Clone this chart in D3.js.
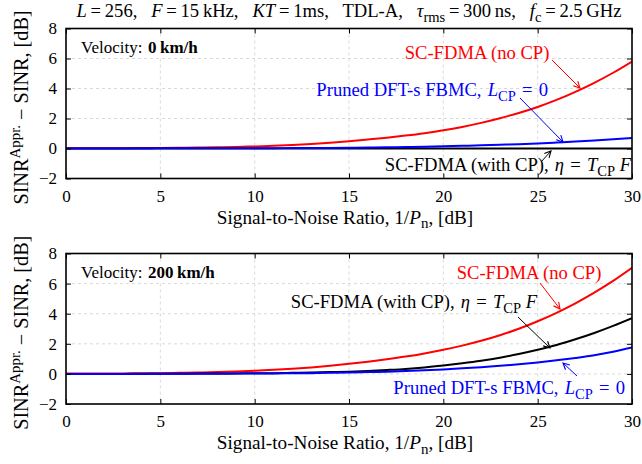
<!DOCTYPE html>
<html>
<head>
<meta charset="utf-8">
<script src="https://cdn.jsdelivr.net/npm/d3@7"></script>
<style>
  html, body { margin: 0; padding: 0; background: #fff; }
  svg { display: block; font-family: "Liberation Serif", "Times New Roman", serif; }
</style>
</head>
<body>
<svg id="chart" width="642" height="464"></svg>
<script>
// SNR grid in dB
const snrDb = [0,1,2,3,4,5,6,7,8,9,10,11,12,13,14,15,16,17,18,19,20,21,22,23,24,25,26,27,28,29,30];

// Velocity 0 km/h: SINR approximation error in dB
const noCp0   = [0.01,0.01,0.02,0.02,0.03,0.04,0.05,0.06,0.08,0.10,0.14,0.18,0.23,0.30,0.39,0.49,0.60,0.72,0.86,1.02,1.21,1.44,1.71,2.02,2.37,2.77,3.24,3.78,4.38,5.05,5.80];
const fbmc0   = [0,0,0,0,0,0.01,0.01,0.01,0.01,0.01,0.02,0.02,0.03,0.03,0.04,0.05,0.06,0.08,0.10,0.12,0.15,0.18,0.21,0.25,0.29,0.34,0.40,0.46,0.53,0.61,0.70];
const withCp0 = [0,0,0,0,0,0,0,0,0,0,0,0,0,0,0,0,0,0,0,0,0,0,0,0,0,0,0,0,0,0,0];

// Velocity 200 km/h
const noCp200   = [0.02,0.02,0.03,0.03,0.04,0.05,0.07,0.09,0.12,0.16,0.21,0.27,0.34,0.43,0.54,0.67,0.81,0.97,1.15,1.36,1.60,1.88,2.20,2.57,3.00,3.50,4.06,4.69,5.40,6.18,7.05];
const withCp200 = [0,0,0,0,0.01,0.01,0.01,0.02,0.02,0.03,0.04,0.05,0.07,0.09,0.12,0.15,0.20,0.26,0.33,0.43,0.56,0.71,0.88,1.08,1.32,1.60,1.92,2.30,2.72,3.19,3.70];
const fbmc200   = [0,0,0,0,0,0.01,0.01,0.01,0.01,0.02,0.02,0.03,0.04,0.05,0.07,0.09,0.12,0.15,0.19,0.24,0.30,0.37,0.45,0.54,0.64,0.76,0.90,1.06,1.24,1.47,1.75];

const xTicks = [0,5,10,15,20,25,30];
const yTicks = [-2,0,2,4,6,8];

const RED = "#ff0000", BLUE = "#0000ff", BLACK = "#000000";
const FS = 17;      // tick labels
const FSX = 19.2;   // x axis label
const FSY = 20.2;   // y axis label
const FSV = 17;     // velocity tag
const FSA = 18.6;   // annotations and title

const svg = d3.select("#chart");

// Arrowhead markers, one per colour
const defs = svg.append("defs");
[["r", RED], ["b", BLUE], ["k", BLACK]].forEach(([id, c]) => {
  defs.append("marker")
    .attr("id", "arr-" + id)
    .attr("viewBox", "0 0 10 10")
    .attr("refX", 9).attr("refY", 5)
    .attr("markerWidth", 8).attr("markerHeight", 8)
    .attr("markerUnits", "userSpaceOnUse")
    .attr("orient", "auto")
    .append("path")
    .attr("d", "M1,1 L9,5 L1,9")
    .attr("fill", "none")
    .attr("stroke", c)
    .attr("stroke-width", 1.4);
});

// Writes mixed roman / italic / sub / superscript runs into a text node
function rich(textSel, parts, fs) {
  let shift = 0;
  parts.forEach(p => {
    const ts = textSel.append("tspan").text(p.t);
    let target = 0, size = fs;
    if (p.sub) { target = fs * 0.25; size = fs * 0.78; }
    if (p.sup) { target = -fs * 0.42; size = fs * 0.74; }
    if (target !== shift) { ts.attr("dy", target - shift); shift = target; }
    if (size !== fs) ts.attr("font-size", size);
    if (p.i) ts.attr("font-style", "italic");
    if (p.b) ts.attr("font-weight", "bold");
  });
  return textSel;
}

const left = 66, right = 632;
const x = d3.scaleLinear().domain([0, 30]).range([left, right]);

function panel(top, bottom, velocity, series, notes, clipId) {
  const y = d3.scaleLinear().domain([-2, 8]).range([bottom, top]);
  const g = svg.append("g");

  // grid
  g.append("g").selectAll("line.gx").data(xTicks.slice(1, -1)).join("line")
    .attr("x1", d => x(d)).attr("x2", d => x(d))
    .attr("y1", top).attr("y2", bottom)
    .attr("stroke", "#cfcfcf").attr("stroke-width", 0.8).attr("stroke-dasharray", "3,3");
  g.append("g").selectAll("line.gy").data(yTicks.slice(1, -1)).join("line")
    .attr("x1", left).attr("x2", right)
    .attr("y1", d => y(d)).attr("y2", d => y(d))
    .attr("stroke", "#cfcfcf").attr("stroke-width", 0.8).attr("stroke-dasharray", "3,3");

  // velocity tag with white backing
  const vt = g.append("text").attr("x", 81).attr("y", top + 24).attr("font-size", FSV);
  rich(vt, [{ t: "Velocity:\u2004" }, { t: velocity, b: true }], FSV);
  const bb = vt.node().getBBox();
  g.insert("rect", "text").attr("x", bb.x - 3).attr("y", bb.y - 1)
    .attr("width", bb.width + 6).attr("height", bb.height + 2).attr("fill", "#fff");

  // curves
  svg.select("defs").append("clipPath").attr("id", clipId)
    .append("rect").attr("x", left).attr("y", top).attr("width", right - left).attr("height", bottom - top);
  const line = d3.line().x((d, i) => x(snrDb[i])).y(d => y(d)).curve(d3.curveMonotoneX);
  const cg = g.append("g").attr("clip-path", `url(#${clipId})`);
  series.forEach(s => {
    cg.append("path").datum(s.v).attr("d", line)
      .attr("fill", "none").attr("stroke", s.c).attr("stroke-width", 2);
  });

  // axes: inward ticks on all four sides
  const tl = 5;
  const ax = g.append("g").attr("transform", `translate(0,${bottom})`)
    .call(d3.axisBottom(x).tickValues(xTicks).tickSize(-tl).tickPadding(tl + 6));
  const axT = g.append("g").attr("transform", `translate(0,${top})`)
    .call(d3.axisTop(x).tickValues(xTicks).tickSize(-tl).tickFormat(""));
  const ay = g.append("g").attr("transform", `translate(${left},0)`)
    .call(d3.axisLeft(y).tickValues(yTicks).tickSize(-tl).tickPadding(tl + 4));
  const ayR = g.append("g").attr("transform", `translate(${right},0)`)
    .call(d3.axisRight(y).tickValues(yTicks).tickSize(-tl).tickFormat(""));
  [ax, axT, ay, ayR].forEach(a => {
    a.select(".domain").remove();
    a.selectAll(".tick line").attr("stroke", "#000").attr("stroke-width", 1);
    a.selectAll("text").attr("font-size", FS).attr("font-family", "Liberation Serif").attr("fill", "#000");
  });

  // frame
  g.append("rect").attr("x", left).attr("y", top).attr("width", right - left).attr("height", bottom - top)
    .attr("fill", "none").attr("stroke", "#000").attr("stroke-width", 1.6);

  // x label
  const xl = g.append("text").attr("x", (left + right) / 2 - 4).attr("y", bottom + 45)
    .attr("text-anchor", "middle").attr("font-size", FSX);
  rich(xl, [{ t: "Signal-to-Noise Ratio, 1/" }, { t: "P", i: true }, { t: "n", sub: true }, { t: ", [dB]" }], FSX);

  // y label
  const cy = (top + bottom) / 2;
  const yl = g.append("text").attr("transform", `translate(28,${cy + 4}) rotate(-90)`)
    .attr("text-anchor", "middle").attr("font-size", FSY);
  rich(yl, [{ t: "SINR" }, { t: "Appr.", sup: true }, { t: "\u2005\u2212\u2005SINR, [dB]" }], FSY);

  // annotations
  notes.forEach(n => {
    g.append("line")
      .attr("x1", n.from[0]).attr("y1", n.from[1])
      .attr("x2", n.to[0]).attr("y2", n.to[1])
      .attr("stroke", n.c).attr("stroke-width", 1)
      .attr("marker-end", `url(#arr-${n.m})`);
    const t = g.append("text").attr("x", n.x).attr("y", n.y)
      .attr("text-anchor", n.anchor).attr("font-size", FSA).attr("fill", n.c);
    rich(t, n.parts, FSA);
  });
}

const noCpParts = [{ t: "SC-FDMA (no CP)" }];
const fbmcParts = [{ t: "Pruned DFT-s FBMC,\u2004" }, { t: "L", i: true }, { t: "CP", sub: true }, { t: "\u2004=\u20040" }];
const withCpParts = [{ t: "SC-FDMA (with CP),\u2004" }, { t: "\u03b7", i: true }, { t: "\u2004=\u2004" }, { t: "T", i: true }, { t: "CP", sub: true }, { t: "\u2005" }, { t: "F", i: true }];

// title
const title = svg.append("text").attr("x", 349).attr("y", 17).attr("text-anchor", "middle").attr("font-size", FSA);
rich(title, [
  { t: "L", i: true }, { t: "\u2009=\u2009256,\u2002 " },
  { t: "F", i: true }, { t: "\u2009=\u200915\u2009kHz,\u2002 " },
  { t: "KT", i: true }, { t: "\u2009=\u20091ms,\u2002 TDL-A,\u2002 " },
  { t: "\u03c4", i: true }, { t: "rms", sub: true }, { t: "\u2009=\u2009300\u2009ns,\u2002 " },
  { t: "f", i: true }, { t: "c", sub: true }, { t: "\u2009=\u20092.5\u2009GHz" }
], FSA);

panel(28.5, 178.5, "0\u2009km/h",
  [{ v: noCp0, c: RED }, { v: withCp0, c: BLACK }, { v: fbmc0, c: BLUE }],
  [
    { parts: noCpParts, c: RED, m: "r", x: 477, y: 59, anchor: "middle", from: [552, 60], to: [580, 88] },
    { parts: fbmcParts, c: BLUE, m: "b", x: 548, y: 96, anchor: "end", from: [520, 98], to: [563, 142] },
    { parts: withCpParts, c: BLACK, m: "k", x: 631, y: 171, anchor: "end", from: [541, 162], to: [551, 151] }
  ], "clip-top");

panel(253.5, 404, "200\u2009km/h",
  [{ v: noCp200, c: RED }, { v: withCp200, c: BLACK }, { v: fbmc200, c: BLUE }],
  [
    { parts: noCpParts, c: RED, m: "r", x: 529, y: 279, anchor: "middle", from: [540, 283], to: [560, 309] },
    { parts: withCpParts, c: BLACK, m: "k", x: 537, y: 308, anchor: "end", from: [518, 317], to: [550, 348] },
    { parts: fbmcParts, c: BLUE, m: "b", x: 625, y: 394, anchor: "end", from: [577, 376], to: [563, 363] }
  ], "clip-bot");
</script>
</body>
</html>
